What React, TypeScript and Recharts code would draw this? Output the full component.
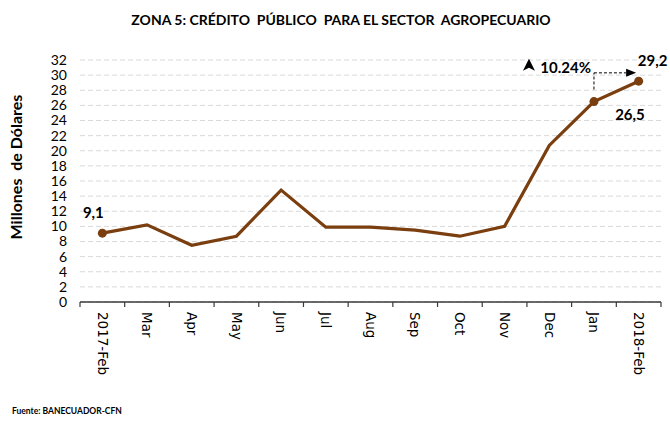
import React from 'react';
import {
  LineChart, Line, XAxis, YAxis, CartesianGrid, ReferenceLine, ReferenceDot,
} from 'recharts';

// monthly public credit, zona 5 (millions USD)
const months = ['2017-Feb', 'Mar', 'Apr', 'May', 'Jun', 'Jul', 'Aug', 'Sep', 'Oct', 'Nov', 'Dec', 'Jan', '2018-Feb'];
const credito = [9.1, 10.2, 7.5, 8.7, 14.8, 9.9, 9.9, 9.5, 8.7, 10.0, 20.7, 26.5, 29.2];
const pointLabels = ['9,1', '', '', '', '', '', '', '', '', '', '', '26,5', '29,2'];
const yTicks = [0, 2, 4, 6, 8, 10, 12, 14, 16, 18, 20, 22, 24, 26, 28, 30, 32];
const monthTicks = [0, 1, 2, 3, 4, 5, 6, 7, 8, 9, 10, 11, 12];
const bandEdges = [-0.5, 0.5, 1.5, 2.5, 3.5, 4.5, 5.5, 6.5, 7.5, 8.5, 9.5, 10.5, 11.5, 12.5];
const variacion = '10.24%';

const LINE = '#7a3e0f';
const AXIS = '#3a3a3a';
const FONT = 'Lato, "Open Sans", sans-serif';

const data = months.map((m, i) => ({ idx: i, month: m, value: credito[i], label: pointLabels[i] }));
// month labels sit mid-band, tick marks on the band edges
const xTicks = [...bandEdges, ...monthTicks].sort((a, b) => a - b);

// where each value label sits relative to its point
const labelOffset: Record<number, [number, number]> = {
  0: [-9, -20],
  11: [36, 13],
  12: [14, -20],
};

const MonthTick = (props: any) => {
  const { x, y, payload } = props;
  const v = payload.value;
  if (!Number.isInteger(v)) {
    return (
      <g>
        <rect x={x - 0.6} y={y} width={1.2} height={5} fill={AXIS} />
      </g>
    );
  }
  const ly = y + 10;
  return (
    <text
      x={x}
      y={ly}
      dy="0.35em"
      transform={`rotate(90, ${x}, ${ly})`}
      textAnchor="start"
      fontFamily='"DejaVu Sans", sans-serif'
      fontSize={13.5}
      fill="#000"
    >
      {months[v]}
    </text>
  );
};

const Dot = (props: any) => {
  const { cx, cy, index } = props;
  if (!pointLabels[index]) return <g key={`d-${index}`} />;
  return <circle key={`d-${index}`} cx={cx} cy={cy} r={4.5} fill={LINE} />;
};

const ValueLabel = (props: any) => {
  const { x, y, index } = props;
  const txt = pointLabels[index];
  if (!txt) return null;
  const [dx, dy] = labelOffset[index] || [0, -15];
  return (
    <text x={x + dx} y={y + dy} dy="0.35em" textAnchor="middle" fontFamily={FONT} fontWeight={700} fontSize={15} fill="#000">
      {txt}
    </text>
  );
};

const GrowthNote = (props: any) => {
  const { cx, cy } = props;
  const ax = cx - 65;
  return (
    <g>
      <path d={`M${ax},${cy - 14} L${ax + 6},${cy - 2} L${ax},${cy - 5} L${ax - 6},${cy - 2} Z`} fill="#000" />
      <text x={cx - 3} y={cy} textAnchor="end" fontFamily={FONT} fontWeight={700} fontSize={15} fill="#000">
        {variacion}
      </text>
    </g>
  );
};

const ArrowHead = (props: any) => {
  const { cx, cy } = props;
  return <polygon points={`${cx},${cy - 4} ${cx + 10},${cy} ${cx},${cy + 4}`} fill="#000" />;
};

export default function App() {
  return (
    <div style={{ position: 'absolute', left: 0, top: 0, width: 670, height: 426, background: '#fff' }}>
      <div
        style={{
          position: 'absolute', left: 0, top: 11, width: 682, textAlign: 'center',
          fontFamily: FONT, fontWeight: 700, fontSize: 14, color: '#000',
        }}
      >
        ZONA 5: CRÉDITO&nbsp; PÚBLICO&nbsp; PARA EL SECTOR&nbsp; AGROPECUARIO
      </div>
      <div
        style={{
          position: 'absolute', left: 15, top: 167, width: 0, height: 0,
        }}
      >
        <div
          style={{
            position: 'absolute', left: 0, top: 0, transform: 'translate(-50%, -50%) rotate(-90deg)',
            whiteSpace: 'nowrap', fontFamily: FONT, fontWeight: 700, fontSize: 16, color: '#000',
          }}
        >
          Millones&nbsp; de Dólares
        </div>
      </div>
      <LineChart
        width={670}
        height={426}
        data={data}
        margin={{ top: 60, right: 9, bottom: 14, left: 0 }}
      >
        <CartesianGrid vertical={false} stroke="#d9d9d9" strokeDasharray="5 3" />
        <XAxis
          dataKey="idx"
          type="number"
          domain={[-0.5, 12.5]}
          ticks={xTicks}
          tick={<MonthTick />}
          tickLine={false}
          axisLine={{ stroke: AXIS, strokeWidth: 1.3 }}
          stroke={AXIS}
          tickSize={0}
          tickMargin={0}
          height={110}
          interval={0}
          allowDataOverflow
        />
        <YAxis
          type="number"
          domain={[0, 32]}
          ticks={yTicks}
          interval={0}
          width={80}
          axisLine={false}
          tickLine={false}
          tickMargin={7}
          tick={{ fill: '#000', fontSize: 14, fontFamily: FONT }}
        />
        <ReferenceLine
          segment={[{ x: 11, y: 28.1 }, { x: 11, y: 30.3 }]}
          stroke="#000"
          strokeDasharray="3 2"
        />
        <ReferenceLine
          segment={[{ x: 11, y: 30.3 }, { x: 11.72, y: 30.3 }]}
          stroke="#000"
          strokeDasharray="3 2"
        />
        <ReferenceDot x={11.72} y={30.3} shape={<ArrowHead />} />
        <ReferenceDot x={11} y={30.3} shape={<GrowthNote />} />
        <Line
          type="linear"
          dataKey="value"
          stroke={LINE}
          strokeWidth={3.2}
          dot={<Dot />}
          activeDot={false}
          label={<ValueLabel />}
          isAnimationActive={false}
        />
      </LineChart>
      <div
        style={{
          position: 'absolute', left: 12, top: 406, fontFamily: FONT, fontWeight: 700, fontSize: 8.5, color: '#000',
        }}
      >
        Fuente: BANECUADOR-CFN
      </div>
    </div>
  );
}
